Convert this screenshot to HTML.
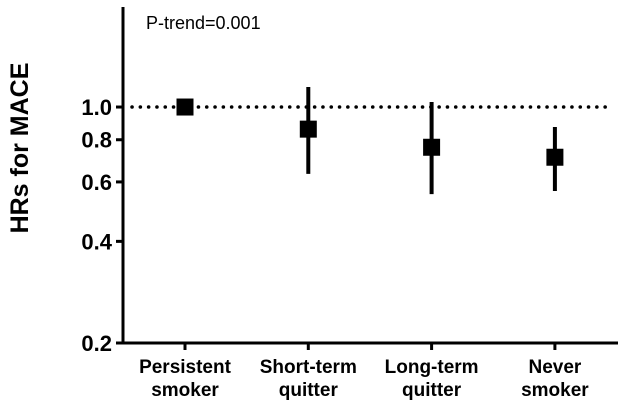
<!DOCTYPE html>
<html><head><meta charset="utf-8"><style>
html,body{margin:0;padding:0;background:#fff}
svg{display:block;font-family:"Liberation Sans",Arial,sans-serif}
</style></head><body>
<svg id="chart" width="640" height="414" viewBox="0 0 640 414"></svg>
<script>
const categories=["Persistent|smoker","Short-term|quitter","Long-term|quitter","Never|smoker"];
const hrValues=[1.0,0.86,0.76,0.71];
const ciLow=[1.0,0.634,0.552,0.564];
const ciHigh=[1.0,1.146,1.035,0.873];
const yTicks=[0.2,0.4,0.6,0.8,1.0];
const yTickLabels=["0.2","0.4","0.6","0.8","1.0"];
const refValue=1.0;

const NS="http://www.w3.org/2000/svg";
const svg=document.getElementById("chart");
const x0=123,x1=618,yBot=343,yMin=0.2,pxPerDec=337.6;
function yScale(v){return yBot-Math.log10(v/yMin)*pxPerDec;}
function xScale(i){return 185+i*123.3;}
function mk(tag,attrs,name,parent){const e=document.createElementNS(NS,tag);for(const k in attrs)e.setAttribute(k,attrs[k]);


(parent||svg).appendChild(e);return e;}

mk("line",{x1:x0,y1:7,x2:x0,y2:yBot+1.5,stroke:"#000","stroke-width":3},"y-axis");
mk("line",{x1:116,y1:yBot,x2:x1,y2:yBot,stroke:"#000","stroke-width":3},"x-axis");
yTicks.forEach((v,i)=>{
  const y=yScale(v);
  mk("line",{x1:116,y1:y,x2:x0,y2:y,stroke:"#000","stroke-width":3},"y-tick");
  const t=mk("text",{x:112,y:y+8,"text-anchor":"end","font-size":22,"font-weight":"bold"},"y-tick-label");
  t.textContent=yTickLabels[i];
});
const ry=yScale(refValue);
mk("line",{x1:x0+9,y1:ry,x2:611,y2:ry,stroke:"#000","stroke-width":3.5,"stroke-dasharray":"0.1 8.2","stroke-linecap":"round"},"reference-line");
categories.forEach((c,i)=>{
  const x=xScale(i);
  mk("line",{x1:x,y1:yBot,x2:x,y2:350,stroke:"#000","stroke-width":3},"x-tick");
  const parts=c.split("|");
  parts.forEach((p,j)=>{
    const t=mk("text",{x:x,y:373+j*23,"text-anchor":"middle","font-size":19,"font-weight":"bold"},"x-tick-label");
    t.textContent=p;
  });
  if(ciHigh[i]!==ciLow[i]) mk("line",{x1:x,y1:yScale(ciHigh[i]),x2:x,y2:yScale(ciLow[i]),stroke:"#000","stroke-width":4},"error-bar");
  const y=yScale(hrValues[i]);
  mk("rect",{x:x-8.5,y:y-8.5,width:17,height:17,fill:"#000"},"hr-marker");
});
const yt=mk("text",{x:0,y:0,transform:"translate(28,148) rotate(-90)","text-anchor":"middle","font-size":25,"font-weight":"bold"},"y-axis-title");
yt.textContent="HRs for MACE";
const pt=mk("text",{x:146,y:29,"font-size":18},"p-trend-annotation");
pt.textContent="P-trend=0.001";
</script>
</body></html>
